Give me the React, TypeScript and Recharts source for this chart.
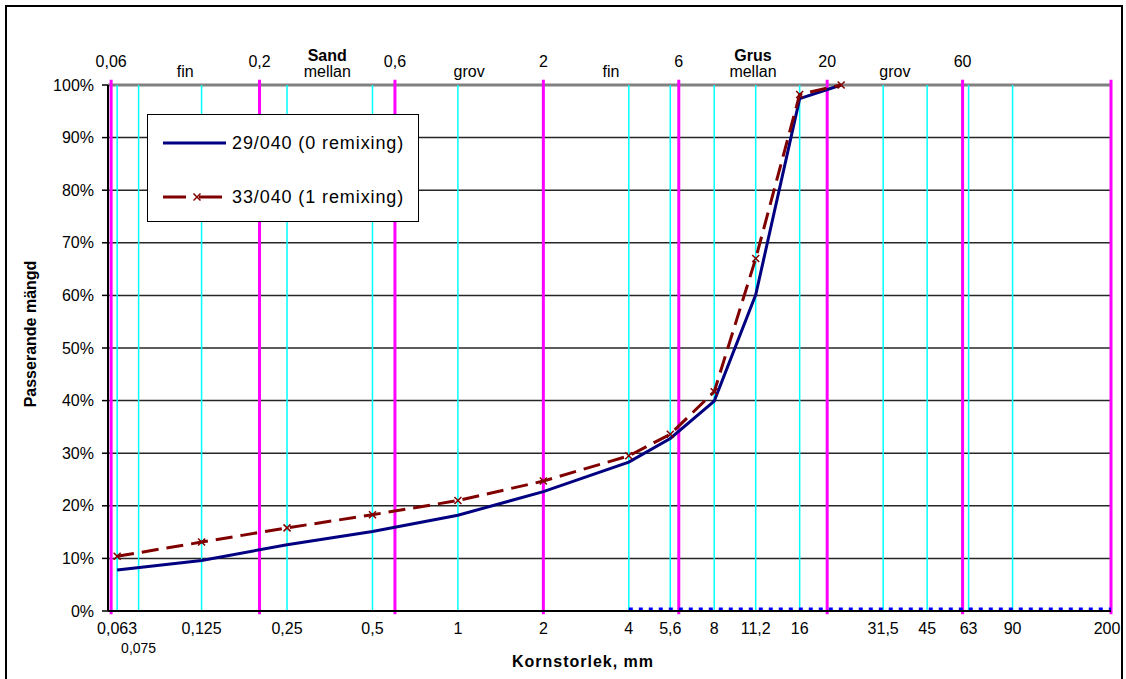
import React from "react";
import { LineChart, Line, XAxis, YAxis, CartesianGrid, ReferenceLine, Legend, Label } from "recharts";

const FONT = "'Liberation Sans', Arial, sans-serif";
const NAVY = "#000080";
const MAROON = "#800000";
const CYAN = "#00FFFF";
const MAGENTA = "#FF00FF";

// sieve sizes (mm) and passing percentages
const sieveSizes = [0.063, 0.125, 0.25, 0.5, 1, 2, 4, 5.6, 8, 11.2, 16, 22.4];
const sample29 = [7.8, 9.6, 12.6, 15.1, 18.2, 22.7, 28.3, 32.8, 39.9, 60.1, 97.4, 100];
const sample33 = [10.4, 13.1, 15.8, 18.3, 21.0, 24.7, 29.5, 33.6, 41.7, 67.0, 98.2, 100];

// blue dotted base line
const baseSizes = [4, 200];
const baseValues = [0.4, 0.4];

// axes
const tickSizes = [0.063, 0.075, 0.125, 0.25, 0.5, 1, 2, 4, 5.6, 8, 11.2, 16, 31.5, 45, 63, 90, 200];
const sieveLines = [0.063, 0.075, 0.125, 0.25, 0.5, 1, 2, 4, 5.6, 8, 11.2, 16, 31.5, 45, 63, 90];
const pctTicks = [0, 10, 20, 30, 40, 50, 60, 70, 80, 90, 100];

// fraction limits (magenta) and names
const classBounds = [0.06, 0.2, 0.6, 2, 6, 20, 60, 200];
const boundLabels = ["0,06", "0,2", "0,6", "2", "6", "20", "60", ""];
const fractionNames = ["fin", "mellan", "grov", "fin", "mellan", "grov"];
const groupNames = ["", "Sand", "", "", "Grus", ""];

const rows = sieveSizes.map((size, i) => ({ size, s29: sample29[i], s33: sample33[i] }));
const baseRows = baseSizes.map((size, i) => ({ size, base: baseValues[i] }));
const fractionMids = classBounds.slice(0, -1).map((b, i) => Math.sqrt(b * classBounds[i + 1]));

const fmt = (v: number) => String(v).replace(".", ",");

function SizeTick(props: any) {
  const { x, y, payload } = props;
  const small = payload.value === 0.075;
  const last = payload.value === 200;
  return (
    <text
      x={last ? x - 4 : x}
      y={y + (small ? 42 : 23)}
      textAnchor="middle"
      fontSize={small ? 14 : 16}
      fill="#000"
      fontFamily={FONT}
    >
      {fmt(payload.value)}
    </text>
  );
}

function Cross(props: any) {
  const { cx, cy, stroke } = props;
  if (cx == null || cy == null) return null;
  const r = 3.5;
  return (
    <g stroke={stroke || MAROON} strokeWidth={1.5}>
      <line x1={cx - r} y1={cy - r} x2={cx + r} y2={cy + r} />
      <line x1={cx - r} y1={cy + r} x2={cx + r} y2={cy - r} />
    </g>
  );
}

const boundLabel = (text: string) => (props: any) => (
  <text x={props.viewBox.x} y={67} textAnchor="middle" fontSize={16} fill="#000" fontFamily={FONT}>
    {text}
  </text>
);

const fractionLabel = (name: string, group: string) => (props: any) => (
  <g fontFamily={FONT} fill="#000" textAnchor="middle">
    {group && (
      <text x={props.viewBox.x} y={61} fontSize={16} fontWeight="bold">
        {group}
      </text>
    )}
    <text x={props.viewBox.x} y={77} fontSize={16}>
      {name}
    </text>
  </g>
);

function LegendBox(props: any) {
  const items = (props.payload || []).filter((p: any) => p.value);
  return (
    <div style={{ width: 272, height: 108, border: "1.5px solid #000", background: "#fff", boxSizing: "border-box" }}>
      <svg width={269} height={105} style={{ display: "block" }}>
        {items.map((p: any, i: number) => {
          const y = 28 + i * 54;
          const dashed = p.dataKey === "s33";
          return (
            <g key={p.dataKey}>
              {dashed ? (
                <>
                  <line x1={15} x2={38} y1={y} y2={y} stroke={p.color} strokeWidth={3} />
                  <Cross cx={49} cy={y} stroke={p.color} />
                  <line x1={51} x2={74} y1={y} y2={y} stroke={p.color} strokeWidth={3} />
                </>
              ) : (
                <line x1={15} x2={78} y1={y} y2={y} stroke={p.color} strokeWidth={3} />
              )}
              <text x={84} y={y + 6} fontSize={18} letterSpacing={0.9} fill="#000" fontFamily={FONT}>
                {p.value}
              </text>
            </g>
          );
        })}
      </svg>
    </div>
  );
}

export default function App() {
  return (
    <div style={{ position: "relative", width: 1126, height: 679, overflow: "hidden", background: "#fff", fontFamily: FONT }}>
      <style>{"body{margin:0}"}</style>
      <div style={{ position: "absolute", left: 0, top: 0 }}>
        <LineChart width={1126} height={679} data={rows} margin={{ top: 85, right: 15, bottom: 0, left: 0 }}>
          <CartesianGrid vertical={false} stroke="#000" strokeWidth={1.5} strokeOpacity={0.85} />
          <XAxis
            dataKey="size"
            type="number"
            scale="log"
            domain={[0.0585, 200]}
            allowDataOverflow
            ticks={tickSizes}
            interval={0}
            tick={<SizeTick />}
            tickLine={false}
            tickSize={0}
            tickMargin={0}
            height={68}
            axisLine={{ stroke: "#000", strokeWidth: 2 }}
          >
            <Label
              content={() => (
                <text x={583} y={667} textAnchor="middle" fontSize={16} fontWeight="bold" letterSpacing={1} fill="#000" fontFamily={FONT}>
                  Kornstorlek, mm
                </text>
              )}
            />
          </XAxis>
          <YAxis
            type="number"
            domain={[0, 100]}
            ticks={pctTicks}
            interval={0}
            width={108}
            tickFormatter={(v: number) => `${v}%`}
            tick={{ fill: "#000", fontSize: 16, fontFamily: FONT }}
            tickLine={{ stroke: "#000", strokeWidth: 1.5 }}
            tickSize={6}
            tickMargin={8}
            axisLine={{ stroke: "#000", strokeWidth: 2 }}
          >
            <Label
              content={() => (
                <text x={30} y={334} transform="rotate(-90 30 334)" textAnchor="middle" dominantBaseline="central" fontSize={16} fontWeight="bold" fill="#000" fontFamily={FONT}>
                  Passerande mängd
                </text>
              )}
            />
          </YAxis>
          <ReferenceLine y={100} stroke="#808080" strokeWidth={3} />
          {sieveLines.map((s) => (
            <ReferenceLine key={"c" + s} x={s} stroke={CYAN} strokeWidth={1.5} />
          ))}
          {classBounds.map((b, i) => (
            <ReferenceLine
              key={"m" + b}
              segment={[{ x: b, y: 101 }, { x: b, y: -0.6 }]}
              ifOverflow="visible"
              stroke={MAGENTA}
              strokeWidth={3}
              label={boundLabel(boundLabels[i])}
            />
          ))}
          {fractionMids.map((m, i) => (
            <ReferenceLine key={"f" + i} x={m} stroke="none" label={fractionLabel(fractionNames[i], groupNames[i])} />
          ))}
          <Line
            data={baseRows}
            dataKey="base"
            stroke="#0000FF"
            strokeWidth={3}
            strokeDasharray="4 6"
            dot={false}
            legendType="none"
            isAnimationActive={false}
          />
          <Line dataKey="s29" name="29/040 (0 remixing)" stroke={NAVY} strokeWidth={3} dot={false} isAnimationActive={false} />
          <Line
            dataKey="s33"
            name="33/040 (1 remixing)"
            stroke={MAROON}
            strokeWidth={3}
            strokeDasharray="17 8"
            dot={<Cross />}
            isAnimationActive={false}
          />
          <Legend
            layout="vertical"
            align="center"
            verticalAlign="middle"
            wrapperStyle={{ left: 147, top: 114, width: 272, height: 108 }}
            content={<LegendBox />}
          />
        </LineChart>
      </div>
      <div
        style={{
          position: "absolute",
          left: 5,
          top: 5,
          width: 1118,
          height: 720,
          border: "2px solid #000",
          boxSizing: "border-box",
          pointerEvents: "none",
        }}
      />
    </div>
  );
}
